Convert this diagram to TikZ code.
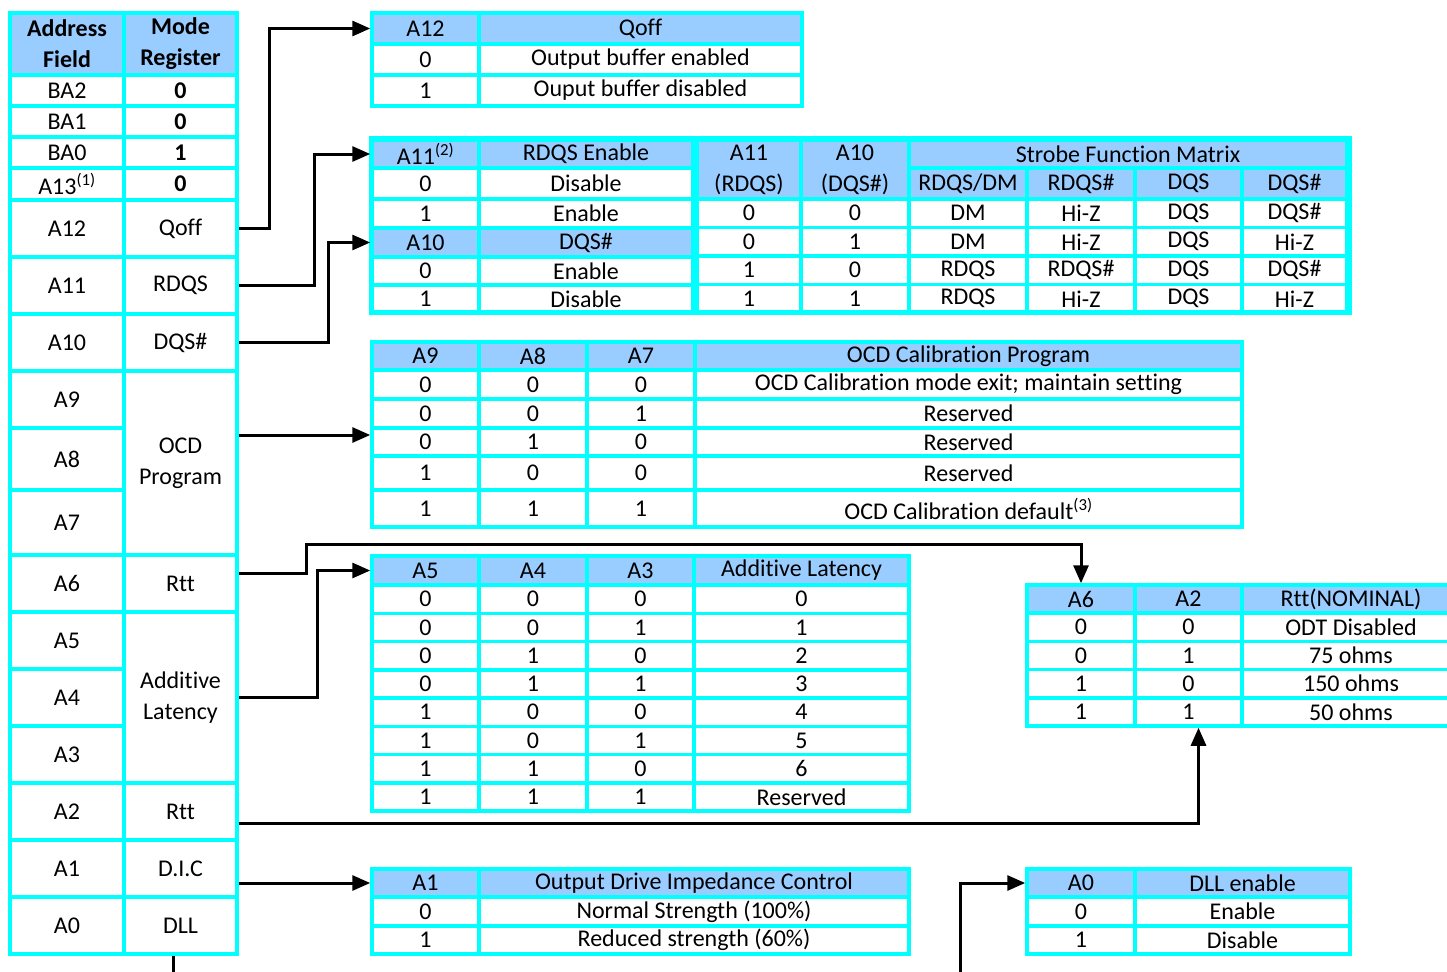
\documentclass[tikz,border=0pt]{standalone}
\usepackage{fontspec}
\setmainfont{Carlito}[Ligatures=NoCommon]
\usetikzlibrary{arrows.meta,calc}
\definecolor{regcyan}{HTML}{00FFFF}
\definecolor{hdrblue}{HTML}{99CCFF}
\newcommand{\tabfont}{\fontsize{24}{31}\selectfont}
% one table cell: name, x1, y1, x2, y2, style, text
\newcommand{\tcell}[7]{%
  \pgfmathsetmacro{\tcw}{#4-#2}
  \pgfmathsetmacro{\tch}{#5-#3}
  \node[tcellbox,#6,minimum width=\tcw pt,minimum height=\tch pt]
       (#1) at ({(#2+#4)/2},{(#3+#5)/2}) {#7};
}
\tikzset{
  tcellbox/.style={draw=regcyan,line width=3.5pt,fill=white,inner sep=0pt,
                   align=center,font=\tabfont},
  hdr/.style={fill=hdrblue},
  bold/.style={font=\tabfont\bfseries},
  conn/.style={line width=3pt,-{Triangle[length=18pt,width=15pt]}},
}

\begin{document}
\begin{tikzpicture}[x=1pt,y=-1pt]
  \useasboundingbox (0,0) rectangle (1447,971);
  \clip (0,0) rectangle (1447,971);

  % address field / mode register
  \tcell{addr-h}{10}{13}{124}{75}{hdr,bold}{Address\\Field}
  \tcell{mode-h}{124}{13}{237}{75}{hdr,bold}{Mode\\Register}
  \foreach \nm/\ya/\yb/\tx in {BA2/75/106/BA2,BA1/106/137/BA1,BA0/137/168/BA0,
      A13/168/200/{A13\textsuperscript{(1)}},A12/200/257/A12,A11/257/314/A11,
      A10/314/371/A10,A9/371/428/A9,A8/428/490/A8,A7/490/555/A7,A6/555/612/A6,
      A5/612/669/A5,A4/669/726/A4,A3/726/783/A3,A2/783/840/A2,A1/840/897/A1,
      A0/897/954/A0}
    {\tcell{addr-\nm}{10}{\ya}{124}{\yb}{}{\tx}}
  \foreach \nm/\ya/\yb/\tx in {BA2/75/106/0,BA1/106/137/0,BA0/137/168/1,A13/168/200/0}
    {\tcell{mode-\nm}{124}{\ya}{237}{\yb}{bold}{\tx}}
  \foreach \nm/\ya/\yb/\tx in {A12/200/257/Qoff,A11/257/314/RDQS,A10/314/371/DQS\#,
      A6/555/612/Rtt,A2/783/840/Rtt,A1/840/897/D.I.C,A0/897/954/DLL}
    {\tcell{mode-\nm}{124}{\ya}{237}{\yb}{}{\tx}}
  \tcell{mode-OCD}{124}{371}{237}{555}{}{OCD\\Program}
  \tcell{mode-AL}{124}{612}{237}{783}{}{Additive\\Latency}

  % Qoff
  \tcell{qoff-h1}{372}{13}{479}{44}{hdr}{A12}
  \tcell{qoff-h2}{479}{13}{802}{44}{hdr}{Qoff}
  \tcell{qoff-1-a}{372}{44}{479}{75}{}{0}
  \tcell{qoff-1-b}{479}{44}{802}{75}{}{Output buffer enabled}
  \tcell{qoff-2-a}{372}{75}{479}{106}{}{1}
  \tcell{qoff-2-b}{479}{75}{802}{106}{}{Ouput buffer disabled}

  % RDQS / DQS# and strobe function matrix
  \tcell{strobe-h1}{372}{140}{479}{168}{hdr}{A11\textsuperscript{(2)}}
  \tcell{strobe-h1b}{479}{140}{693}{168}{hdr}{RDQS Enable}
  \tcell{strobe-r1a}{372}{168}{479}{199}{}{0}
  \tcell{strobe-r1b}{479}{168}{693}{199}{}{Disable}
  \tcell{strobe-r2a}{372}{199}{479}{228}{}{1}
  \tcell{strobe-r2b}{479}{199}{693}{228}{}{Enable}
  \tcell{strobe-h2}{372}{228}{479}{257}{hdr}{A10}
  \tcell{strobe-h2b}{479}{228}{693}{257}{hdr}{DQS\#}
  \tcell{strobe-d1a}{372}{257}{479}{285}{}{0}
  \tcell{strobe-d1b}{479}{257}{693}{285}{}{Enable}
  \tcell{strobe-d2a}{372}{285}{479}{313}{}{1}
  \tcell{strobe-d2b}{479}{285}{693}{313}{}{Disable}
  \tcell{strobe-c11}{697}{140}{801}{199}{hdr}{A11\\(RDQS)}
  \tcell{strobe-c10}{801}{140}{909}{199}{hdr}{A10\\(DQS\#)}
  \tcell{strobe-sfm}{909}{140}{1347}{168}{hdr}{Strobe Function Matrix}
  \foreach \nm/\xa/\xb/\tx in {dm/909/1027/{RDQS/DM},rq/1027/1135/RDQS\#,
      dq/1135/1242/DQS,dn/1242/1347/DQS\#}
    {\tcell{strobe-\nm}{\xa}{168}{\xb}{199}{hdr}{\tx}}
  \foreach \va/\vb/\vc/\vd/\ve/\vf [count=\i from 0] in {0/0/DM/Hi-Z/DQS/DQS\#,
      0/1/DM/Hi-Z/DQS/Hi-Z,1/0/RDQS/RDQS\#/DQS/DQS\#,1/1/RDQS/Hi-Z/DQS/Hi-Z}{
    \pgfmathsetmacro{\ya}{199+28.5*\i}
    \pgfmathsetmacro{\yb}{\ya+28.5}
    \tcell{strobe-\i-a}{697}{\ya}{801}{\yb}{}{\va}
    \tcell{strobe-\i-b}{801}{\ya}{909}{\yb}{}{\vb}
    \tcell{strobe-\i-c}{909}{\ya}{1027}{\yb}{}{\vc}
    \tcell{strobe-\i-d}{1027}{\ya}{1135}{\yb}{}{\vd}
    \tcell{strobe-\i-e}{1135}{\ya}{1242}{\yb}{}{\ve}
    \tcell{strobe-\i-f}{1242}{\ya}{1347}{\yb}{}{\vf}
  }
  \draw[regcyan,line width=5pt] (371,138) rectangle (1349,312);

  % OCD calibration program
  \tcell{ocd-h1}{372}{342}{479}{370}{hdr}{A9}
  \tcell{ocd-h2}{479}{342}{587}{370}{hdr}{A8}
  \tcell{ocd-h3}{587}{342}{695}{370}{hdr}{A7}
  \tcell{ocd-h4}{695}{342}{1242}{370}{hdr}{OCD Calibration Program}
  \foreach \ya/\yb/\va/\vb/\vc/\vd [count=\i] in {
      370/399/0/0/0/{OCD Calibration mode exit; maintain setting},
      399/428/0/0/1/Reserved,428/456/0/1/0/Reserved,456/490/1/0/0/Reserved,
      490/527/1/1/1/{OCD Calibration default\textsuperscript{(3)}}}{
    \tcell{ocd-\i-a}{372}{\ya}{479}{\yb}{}{\va}
    \tcell{ocd-\i-b}{479}{\ya}{587}{\yb}{}{\vb}
    \tcell{ocd-\i-c}{587}{\ya}{695}{\yb}{}{\vc}
    \tcell{ocd-\i-d}{695}{\ya}{1242}{\yb}{}{\vd}
  }

  % additive latency
  \tcell{al-h1}{372}{556}{479}{585}{hdr}{A5}
  \tcell{al-h2}{479}{556}{587}{585}{hdr}{A4}
  \tcell{al-h3}{587}{556}{694}{585}{hdr}{A3}
  \tcell{al-h4}{694}{556}{909}{585}{hdr}{Additive Latency}
  \foreach \va/\vb/\vc/\vd [count=\i from 0] in {0/0/0/0,0/0/1/1,0/1/0/2,0/1/1/3,
      1/0/0/4,1/0/1/5,1/1/0/6,1/1/1/Reserved}{
    \pgfmathsetmacro{\ya}{585+28.25*\i}
    \pgfmathsetmacro{\yb}{\ya+28.25}
    \tcell{al-\i-a}{372}{\ya}{479}{\yb}{}{\va}
    \tcell{al-\i-b}{479}{\ya}{587}{\yb}{}{\vb}
    \tcell{al-\i-c}{587}{\ya}{694}{\yb}{}{\vc}
    \tcell{al-\i-d}{694}{\ya}{909}{\yb}{}{\vd}
  }

  % Rtt
  \tcell{rtt-h1}{1027}{585}{1135}{613}{hdr}{A6}
  \tcell{rtt-h2}{1135}{585}{1242}{613}{hdr}{A2}
  \tcell{rtt-h3}{1242}{585}{1460}{613}{hdr}{Rtt(NOMINAL)}
  \foreach \va/\vb/\vc [count=\i] in {0/0/ODT Disabled,0/1/75 ohms,
      1/0/150 ohms,1/1/50 ohms}{
    \pgfmathsetmacro{\ya}{613+28.25*(\i-1)}
    \pgfmathsetmacro{\yb}{\ya+28.25}
    \tcell{rtt-\i-a}{1027}{\ya}{1135}{\yb}{}{\va}
    \tcell{rtt-\i-b}{1135}{\ya}{1242}{\yb}{}{\vb}
    \tcell{rtt-\i-c}{1242}{\ya}{1460}{\yb}{}{\vc}
  }

  % output drive impedance control
  \tcell{odic-h1}{372}{869}{479}{897}{hdr}{A1}
  \tcell{odic-h2}{479}{869}{909}{897}{hdr}{Output Drive Impedance Control}
  \tcell{odic-1-a}{372}{897}{479}{926}{}{0}
  \tcell{odic-1-b}{479}{897}{909}{926}{}{Normal Strength (100\%)}
  \tcell{odic-2-a}{372}{926}{479}{954}{}{1}
  \tcell{odic-2-b}{479}{926}{909}{954}{}{Reduced strength (60\%)}

  % DLL enable
  \tcell{dll-h1}{1027}{869}{1135}{897}{hdr}{A0}
  \tcell{dll-h2}{1135}{869}{1350}{897}{hdr}{DLL enable}
  \tcell{dll-1-a}{1027}{897}{1135}{926}{}{0}
  \tcell{dll-1-b}{1135}{897}{1350}{926}{}{Enable}
  \tcell{dll-2-a}{1027}{926}{1135}{954}{}{1}
  \tcell{dll-2-b}{1135}{926}{1350}{954}{}{Disable}

  % connectors
  \draw[conn] (mode-A12.east) -- ++(31,0) |- (qoff-h1.west);
  \draw[conn] (mode-A11.east) -- ++(76,0) |- (strobe-h1.west);
  \draw[conn] (mode-A10.east) -- ++(90,0) |- (strobe-h2.west);
  \coordinate (ocd-in) at ($(mode-OCD.east)+(0,-28)$);
  \draw[conn] (ocd-in) -- (ocd-in -| ocd-h1.west);
  \draw[conn] ($(mode-A6.east)+(0,-10)$) -- ++(68,0) -- ++(0,-29) -| (rtt-h1.north);
  \draw[conn] (mode-AL.east) -- ++(79,0) |- (al-h1.west);
  \draw[conn] ($(mode-A2.east)+(0,12)$) -| ($(rtt-4-b.south)+(10,0)$);
  \draw[conn] (mode-A1.east |- odic-h1.west) -- (odic-h1.west);
  \draw[conn] ($(mode-A0.south)+(-7,0)$) -- ++(0,40) -- ++(787,0) |- (dll-h1.west);
\end{tikzpicture}
\end{document}
